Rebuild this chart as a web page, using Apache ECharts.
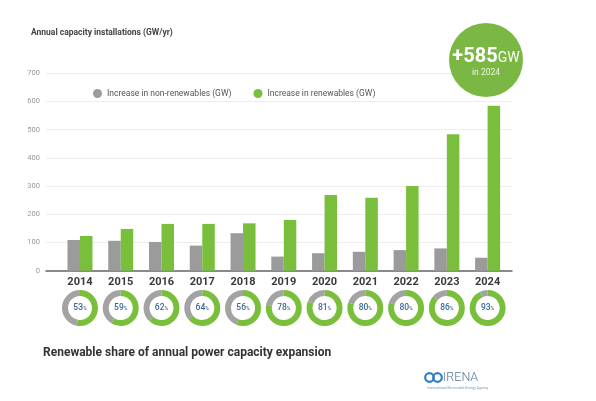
<!DOCTYPE html>
<html>
<head>
<meta charset="utf-8">
<script src="https://cdn.jsdelivr.net/npm/echarts@6/dist/echarts.min.js"></script>
<style>
  html, body { margin: 0; padding: 0; background: #fff; }
  #main { width: 596px; height: 401px; }
</style>
</head>
<body>
<div id="main"></div>
<script>
// values (GW/yr)
const years = ['2014', '2015', '2016', '2017', '2018', '2019', '2020', '2021', '2022', '2023', '2024'];
const nonRenewables = [109, 106, 102, 89, 133, 50, 62, 67, 73, 79, 46];
const renewables = [123, 148, 166, 166, 168, 180, 268, 259, 300, 484, 585];
const renewableShare = [53, 59, 62, 64, 56, 78, 81, 80, 80, 86, 93];
const yTicks = [0, 100, 200, 300, 400, 500, 600, 700];

const GREEN = '#79bf3b';
const GREY = '#9b9b9b';
const FONT = 'Roboto';

let chartDom = document.getElementById('main');
let myChart = echarts.init(chartDom, null, { renderer: 'canvas' });

const gridTop = 73.3, gridBottom = 130.3;

let option = {
  animation: false,
  textStyle: { fontFamily: FONT },
  title: [
    {
      text: 'Annual capacity installations (GW/yr)',
      left: 26, top: 23,
      textStyle: { fontSize: 8.5, fontWeight: 'bold', color: '#444', fontFamily: FONT }
    },
    {
      text: 'Renewable share of annual power capacity expansion',
      left: 38, top: 342,
      textStyle: { fontSize: 12, fontWeight: 'bold', color: '#333', fontFamily: FONT }
    }
  ],
  legend: {
    left: 88, top: 84,
    icon: 'circle',
    itemWidth: 9, itemHeight: 9,
    itemGap: 22,
    textStyle: { fontSize: 8.5, color: '#555', fontFamily: FONT },
    data: ['Increase in non-renewables (GW)', 'Increase in renewables (GW)']
  },
  grid: [
    // background grid: y labels, gridlines, long baseline
    { left: 46, right: 84, top: gridTop, bottom: gridBottom },
    // bars grid
    { left: 59.6, right: 88, top: gridTop, bottom: gridBottom }
  ],
  xAxis: [
    {
      gridIndex: 0, type: 'value', min: 0, max: 1,
      axisLine: { show: true, lineStyle: { color: '#666', width: 1.5 } },
      axisTick: { show: false }, axisLabel: { show: false }, splitLine: { show: false }
    },
    {
      gridIndex: 1, type: 'category', data: years,
      axisLine: { show: false }, axisTick: { show: false },
      axisLabel: { margin: 6, fontSize: 11, fontWeight: 'bold', color: '#3a3a3a', fontFamily: FONT }
    }
  ],
  yAxis: [
    {
      gridIndex: 0, type: 'value', min: yTicks[0], max: yTicks[yTicks.length - 1], interval: 100,
      axisLine: { show: false }, axisTick: { show: false },
      axisLabel: { margin: 6, fontSize: 7.5, color: '#999', fontFamily: FONT },
      splitLine: { lineStyle: { color: '#ededed', width: 1 } }
    },
    {
      gridIndex: 1, type: 'value', min: 0, max: 700, show: false
    }
  ],
  series: [
    {
      name: 'Increase in non-renewables (GW)',
      type: 'bar', xAxisIndex: 1, yAxisIndex: 1,
      data: nonRenewables, barWidth: 12.5, barGap: '0%',
      itemStyle: { color: GREY }
    },
    {
      name: 'Increase in renewables (GW)',
      type: 'bar', xAxisIndex: 1, yAxisIndex: 1,
      data: renewables, barWidth: 12.5, barGap: '0%',
      itemStyle: { color: GREEN }
    }
  ],
  graphic: [
    {
      type: 'circle', shape: { cx: 486, cy: 60, r: 37 },
      style: { fill: '#7ab843' }, z: 10
    },
    {
      type: 'text', x: 486, y: 57, z: 11,
      style: {
        text: '{a|+585}{b|GW}',
        align: 'center', verticalAlign: 'middle',
        rich: {
          a: { fontSize: 20, fontWeight: 'bold', fill: '#fff', fontFamily: FONT },
          b: { fontSize: 14, fill: '#fff', fontFamily: FONT, padding: [3, 0, 0, 0] }
        }
      }
    },
    {
      type: 'text', x: 486, y: 73, z: 11,
      style: { text: 'in 2024', fontSize: 8.5, fill: '#eef7e6', align: 'center', verticalAlign: 'middle', fontFamily: FONT }
    },
    // IRENA logo approximation
    {
      type: 'circle', shape: { cx: 429.5, cy: 377.5, r: 4.3 },
      style: { fill: 'none', stroke: '#2f7fc1', lineWidth: 2.2 }
    },
    {
      type: 'circle', shape: { cx: 437.5, cy: 377.5, r: 4.3 },
      style: { fill: 'none', stroke: '#2f7fc1', lineWidth: 2.2 }
    },
    {
      type: 'text', x: 443, y: 378,
      style: { text: 'IRENA', fontSize: 12.5, fill: '#55779a', verticalAlign: 'middle', fontFamily: FONT, fontWeight: 300 }
    },
    {
      type: 'text', x: 427, y: 388,
      style: { text: 'International Renewable Energy Agency', fontSize: 3.5, fill: '#7a9cc0', verticalAlign: 'middle', fontFamily: FONT }
    }
  ]
};

myChart.setOption(option);

// donuts under each year, centred on the category positions of the bar axis
let donuts = [];
for (let i = 0; i < years.length; i++) {
  let cx = myChart.convertToPixel({ xAxisIndex: 1 }, years[i]);
  donuts.push({
    type: 'pie',
    radius: [12, 18],
    center: [cx, 308],
    startAngle: 90,
    clockwise: true,
    silent: true,
    labelLine: { show: false },
    data: [
      {
        value: renewableShare[i], name: 'share',
        itemStyle: { color: GREEN },
        label: {
          show: true, position: 'center',
          formatter: '{n|' + renewableShare[i] + '}{p|%}',
          rich: {
            n: { fontSize: 8.5, fontWeight: 500, color: '#3a679a', fontFamily: FONT },
            p: { fontSize: 5, fontWeight: 500, color: '#3a679a', fontFamily: FONT, padding: [2, 0, 0, 0] }
          }
        }
      },
      {
        value: 100 - renewableShare[i], name: 'rest',
        itemStyle: { color: '#a3a3a3' },
        label: { show: false }
      }
    ]
  });
}
myChart.setOption({ series: option.series.concat(donuts) });
</script>
</body>
</html>
